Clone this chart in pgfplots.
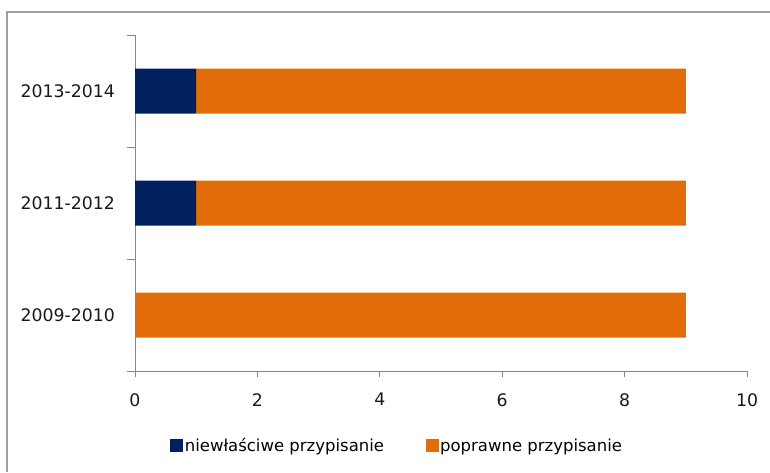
\documentclass[border=0pt]{standalone}
\usepackage{fontspec}
\setmainfont{DejaVu Sans}
\usepackage{pgfplots}
\pgfplotsset{compat=1.18}

\definecolor{navy}{RGB}{0,32,96}
\definecolor{orng}{RGB}{227,108,10}
\definecolor{axgray}{RGB}{134,134,134}
\definecolor{framegray}{RGB}{160,160,160}

\newcommand{\lbl}{\fontsize{17.3}{20}\selectfont}
\newcommand{\leg}{\fontsize{16.5}{19}\selectfont}

\begin{document}
\begin{tikzpicture}
    \path[use as bounding box] (0,0) rectangle (770pt,472pt);
    % chart frame (cut at the right and bottom)
    \draw[framegray, line width=1.2pt] (7pt,0) -- (7pt,460pt) -- (770pt,460pt);

    \begin{axis}[
            at={(135pt,101pt)}, anchor=south west,
            scale only axis,
            width=612pt, height=336pt,
            xbar stacked,
            bar width=45pt,
            xmin=0, xmax=10,
            ymin=-0.5, ymax=2.5,
            axis x line*=bottom,
            axis y line*=left,
            axis line style={axgray, line width=0.9pt},
            xtick={0,2,...,10},
            ytick={0,1,2},
            yticklabels={2009-2010,2011-2012,2013-2014},
            minor ytick={-0.5,0.5,1.5,2.5},
            tick align=outside,
            major tick length=6pt,
            minor tick length=8pt,
            xtick style={axgray, line width=0.9pt},
            ytick style={draw=none},
            minor y tick style={draw=axgray, line width=0.9pt},
            /pgf/number format/assume math mode=true,
            tick label style={font=\lbl, text=black!90},
            xticklabel style={anchor=north, inner sep=0pt, yshift=-16pt},
            yticklabel style={anchor=east, inner sep=0pt, xshift=-14pt},
            legend style={
                    at={(0.428,-0.223)}, anchor=center,
                    draw=none, fill=none,
                    font=\leg,
                    legend columns=2,
                    nodes={inner sep=1.5pt},
                    /tikz/every even column/.append style={column sep=40pt},
                },
            legend cell align=left,
            legend image code/.code={\fill[#1] (0pt,-6.5pt) rectangle (13pt,6.5pt);},
        ]
        \addplot[fill=navy, draw=none] coordinates {(0,0) (1,1) (1,2)};
        \addplot[fill=orng, draw=none] coordinates {(9,0) (8,1) (8,2)};
        \legend{niewłaściwe przypisanie, poprawne przypisanie}
    \end{axis}
\end{tikzpicture}
\end{document}
